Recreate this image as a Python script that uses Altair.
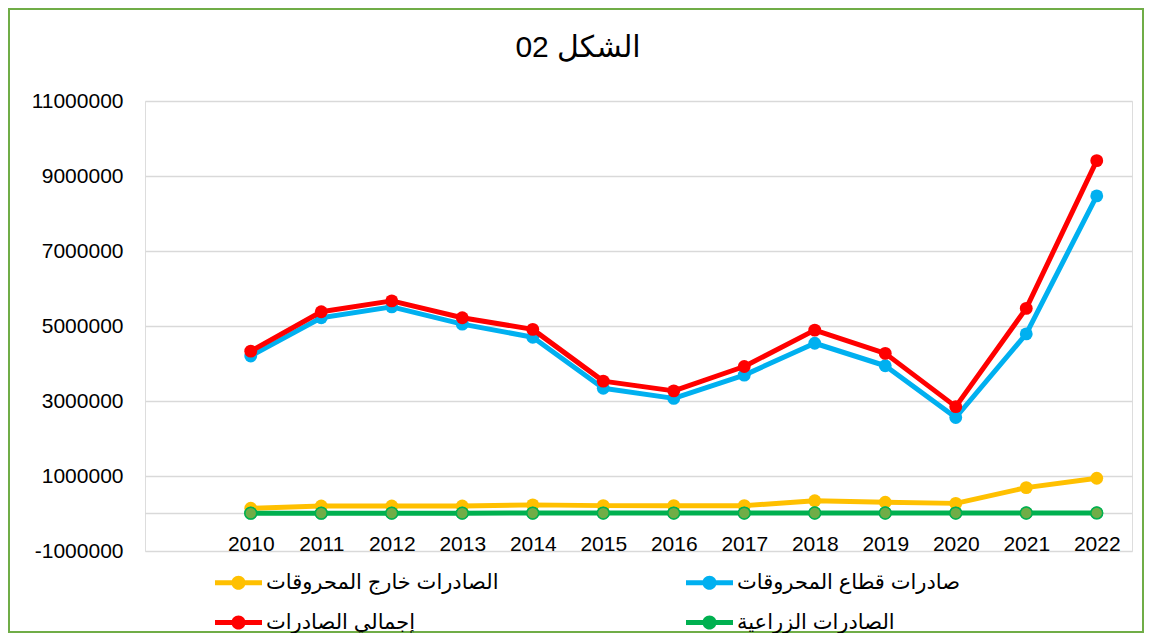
import altair as alt
import pandas as pd

years = list(range(2010, 2023))
series_names = [
    "الصادرات خارج المحروقات",
    "صادرات قطاع المحروقات",
    "إجمالي الصادرات",
    "الصادرات الزراعية",
]
outside_hc = [140000, 200000, 200000, 200000, 230000, 210000, 210000, 210000, 340000, 300000, 270000, 690000, 940000]
hydrocarbons = [4200000, 5220000, 5510000, 5050000, 4700000, 3340000, 3070000, 3690000, 4540000, 3940000, 2560000, 4790000, 8470000]
total = [4330000, 5380000, 5670000, 5220000, 4910000, 3530000, 3270000, 3920000, 4890000, 4270000, 2850000, 5470000, 9410000]
agri = [8000, 9000, 10000, 10000, 11000, 12000, 12000, 12000, 14000, 13000, 12000, 14000, 15000]
y_ticks = [-1000000, 1000000, 3000000, 5000000, 7000000, 9000000, 11000000]
line_colors = ["#FFC000", "#00B0F0", "#FF0000", "#00B050"]
title_text = "02 الشكل"

values_by_series = [outside_hc, hydrocarbons, total, agri]
rows = []
for name, vals in zip(series_names, values_by_series):
    for yr, v in zip(years, vals):
        rows.append({"year": yr, "value": v, "series": name})
df = pd.DataFrame(rows)

FONT = "Liberation Sans, Arial, DejaVu Sans"

x_enc = alt.X(
    "year:Q",
    scale=alt.Scale(domain=[2008.5, 2022.5], nice=False, zero=False),
    axis=alt.Axis(
        values=years, format="d", grid=False, domain=False, ticks=False,
        labelFontSize=21, labelFont=FONT, labelColor="#000000",
        labelPadding=12, offset=-30, title=None, labelOverlap=False,
    ),
)
y_enc = alt.Y(
    "value:Q",
    scale=alt.Scale(domain=[-1000000, 11000000], nice=False, zero=False),
    axis=alt.Axis(
        values=y_ticks, labelExpr="'' + datum.value", grid=True,
        gridColor="#D9D9D9", gridWidth=1.5,
        domain=False, ticks=False, labelFontSize=21, labelFont=FONT,
        labelColor="#000000", labelPadding=22, title=None,
    ),
)

legend_path = ("M-1,-0.106L1,-0.106L1,0.106L-1,0.106Z "
               "M-0.3,0A0.3,0.3 0 1,1 0.3,0A0.3,0.3 0 1,1 -0.3,0Z")
legend = alt.Legend(
    title=None, orient="none", legendX=70, legendY=458, columns=2,
    direction="horizontal",
    columnPadding=187, rowPadding=6, gridAlign="all",
    symbolType=legend_path, symbolSize=2209, symbolStrokeWidth=0,
    symbolOpacity=1, labelFontSize=21, labelFont=FONT, labelColor="#000000",
    labelLimit=500, labelOffset=4,
)
color_enc = alt.Color(
    "series:N",
    scale=alt.Scale(domain=series_names, range=line_colors),
    legend=legend,
)

base = alt.Chart(df)

zero_rule = alt.Chart(pd.DataFrame({"v": [0]})).mark_rule(
    color="#D9D9D9", strokeWidth=1.5
).encode(y=alt.Y("v:Q"))

layers = [zero_rule]
for name, col in zip(series_names, line_colors):
    sub = base.transform_filter(alt.datum.series == name)
    layers.append(
        sub.mark_line(color=col, strokeWidth=5, strokeJoin="round", strokeCap="round")
        .encode(x=x_enc, y=y_enc)
    )
    layers.append(
        sub.mark_point(filled=True, size=165, opacity=1)
        .encode(x=x_enc, y=y_enc, color=color_enc)
    )
    if name == series_names[3]:
        layers.append(
            sub.mark_point(filled=True, size=140, opacity=1, fill="#70AD47",
                           stroke="#00B050", strokeWidth=1.5)
            .encode(x=x_enc, y=y_enc)
        )

title_mark = alt.Chart(pd.DataFrame({"t": [title_text]})).mark_text(
    fontSize=30, font=FONT, baseline="alphabetic", align="center", color="#000000"
).encode(text="t:N", x=alt.value(433), y=alt.value(-44))
layers.append(title_mark)

border = alt.Chart(pd.DataFrame({"a": [0]})).mark_rect(
    fill=None, stroke="#70AD47", strokeWidth=2
).encode(
    x=alt.value(-136), x2=alt.value(998), y=alt.value(-92), y2=alt.value(531)
)
layers.append(border)

chart = alt.layer(*layers).properties(
    width=987,
    height=450,
    autosize=alt.AutoSizeParams(type="none"),
    padding={"left": 137, "top": 93, "right": 13, "bottom": 82},
).configure_view(stroke=None).configure(background="white")

chart.save("out.html", embed_options={"renderer": "svg", "actions": False})
